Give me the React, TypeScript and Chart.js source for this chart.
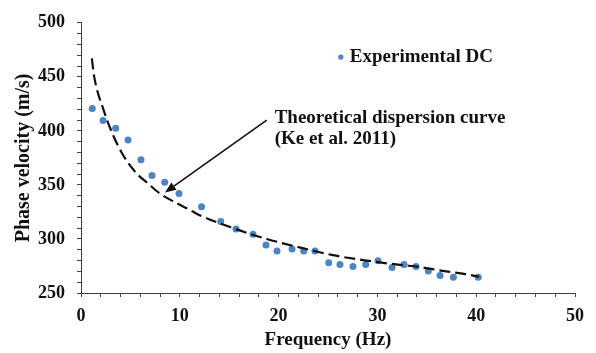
import React, { useEffect, useRef } from "react";
import { Chart, registerables } from "chart.js";

Chart.register(...registerables);

// Experimental dispersion curve
const expFreq = [1.14, 2.23, 3.51, 4.76, 6.07, 7.19, 8.47, 9.92, 12.2, 14.14, 15.69, 17.41, 18.72, 19.84, 21.36, 22.54, 23.68, 25.07, 26.21, 27.53, 28.82, 30.06, 31.48, 32.69, 33.91, 35.15, 36.34, 37.69, 40.2];
const expVel = [420.6, 409.7, 402.4, 391.6, 373.2, 358.7, 352.4, 342, 329.7, 316.1, 309.1, 304.3, 294.4, 288.9, 290.8, 288.9, 288.9, 278.1, 276.3, 274.5, 276.3, 279.9, 273.6, 276.3, 274.5, 270.3, 266.3, 264.5, 264.5];

// Theoretical dispersion curve (Ke et al. 2011)
const theoFreq = [1.1, 1.3, 2.3, 3.3, 4.3, 5.6, 6.7, 8.0, 9.5, 11.0, 12.0, 15.4, 18.8, 22.2, 25.5, 28.9, 32.3, 34.3, 36.6, 38.9, 40.3];
const theoVel = [467, 452, 419, 395, 377, 361, 352, 342, 334, 327, 322, 310, 300, 292, 285, 280, 276, 274, 270.5, 267.5, 265];

// Axis tick labels
const xTickLabels = [0, 10, 20, 30, 40, 50];
const yTickLabels = [250, 300, 350, 400, 450, 500];

// Texts
const xTitle = "Frequency (Hz)";
const yTitle = "Phase velocity (m/s)";
const legendText = "Experimental DC";
const noteLines = ["Theoretical dispersion curve", "(Ke et al. 2011)"];

// Annotation anchors in data coordinates
const legendAnchor = { x: 26.3, y: 468.3 };
const noteAnchor = { x: 19.6, y: 412.1 };
const noteLine2Y = 392.2;
const arrowFrom = { x: 18.8, y: 410 };
const arrowTo = { x: 8.5, y: 343 };

const FONT = "'Liberation Serif', 'Times New Roman', serif";
const DOT = "#4d84c4";
const AXIS = "#404040";

export default function App() {
  const ref = useRef<HTMLCanvasElement | null>(null);

  useEffect(() => {
    if (!ref.current) return;
    const annot = {
      id: "annot",
      afterDatasetsDraw(chart: any) {
        const { ctx, scales } = chart;
        const xs = scales.x, ys = scales.y;
        ctx.save();
        // legend
        const lx = xs.getPixelForValue(legendAnchor.x);
        const ly = ys.getPixelForValue(legendAnchor.y);
        ctx.fillStyle = DOT;
        ctx.beginPath();
        ctx.arc(lx, ly, 2.6, 0, Math.PI * 2);
        ctx.fill();
        ctx.fillStyle = "#111";
        ctx.font = `bold 19px ${FONT}`;
        ctx.textBaseline = "middle";
        ctx.textAlign = "left";
        ctx.fillText(legendText, lx + 9, ly);
        // note
        const nx = xs.getPixelForValue(noteAnchor.x);
        ctx.fillText(noteLines[0], nx, ys.getPixelForValue(noteAnchor.y));
        ctx.fillText(noteLines[1], nx, ys.getPixelForValue(noteLine2Y));
        // arrow
        const ax0 = xs.getPixelForValue(arrowFrom.x), ay0 = ys.getPixelForValue(arrowFrom.y);
        const ax1 = xs.getPixelForValue(arrowTo.x), ay1 = ys.getPixelForValue(arrowTo.y);
        const ang = Math.atan2(ay1 - ay0, ax1 - ax0);
        const hl = 11, hw = 4.5;
        const bx = ax1 - hl * Math.cos(ang), by = ay1 - hl * Math.sin(ang);
        ctx.strokeStyle = "#111";
        ctx.lineWidth = 1.6;
        ctx.beginPath();
        ctx.moveTo(ax0, ay0);
        ctx.lineTo(bx, by);
        ctx.stroke();
        ctx.fillStyle = "#111";
        ctx.beginPath();
        ctx.moveTo(ax1, ay1);
        ctx.lineTo(bx + hw * Math.sin(ang), by - hw * Math.cos(ang));
        ctx.lineTo(bx - hw * Math.sin(ang), by + hw * Math.cos(ang));
        ctx.closePath();
        ctx.fill();
        ctx.restore();
      },
    };

    const chart = new Chart(ref.current, {
      type: "scatter",
      data: {
        datasets: [
          {
            type: "line",
            label: "Theoretical",
            data: theoFreq.map((f, i) => ({ x: f, y: theoVel[i] })),
            borderColor: "#111",
            borderWidth: 2.2,
            borderDash: [11, 5],
            pointRadius: 0,
            fill: false,
            cubicInterpolationMode: "monotone",
          } as any,
          {
            label: legendText,
            data: expFreq.map((f, i) => ({ x: f, y: expVel[i] })),
            backgroundColor: DOT,
            borderColor: DOT,
            borderWidth: 0,
            pointRadius: 3.5,
          },
        ],
      },
      options: {
        responsive: false,
        animation: false,
        layout: { padding: { left: 0, right: 21, top: 17, bottom: 0 } },
        plugins: { legend: { display: false }, tooltip: { enabled: false } },
        scales: {
          x: {
            type: "linear",
            min: 0,
            max: 50,
            afterFit(s: any) { s.height = 60; },
            afterBuildTicks(s: any) {
              const t = [];
              for (let v = 0; v <= 50; v += 2) t.push({ value: v });
              s.ticks = t;
            },
            ticks: {
              autoSkip: false,
              maxRotation: 0,
              padding: 9,
              color: "#111",
              font: { family: FONT, size: 18, weight: "bold" },
              callback: (v: any) => (xTickLabels.includes(Number(v)) ? String(v) : ""),
            },
            grid: { drawOnChartArea: false, drawTicks: true, tickLength: 4, color: AXIS },
            border: { display: true, color: AXIS, width: 1 },
            title: {
              display: true,
              text: xTitle,
              color: "#111",
              font: { family: FONT, size: 19, weight: "bold" },
              padding: { top: 0, bottom: 2 },
            },
          },
          y: {
            type: "linear",
            min: 250,
            max: 500,
            afterFit(s: any) { s.width = 81; },
            afterBuildTicks(s: any) {
              const t = [];
              for (let v = 250; v <= 500; v += 10) t.push({ value: v });
              s.ticks = t;
            },
            ticks: {
              autoSkip: false,
              padding: 12,
              color: "#111",
              font: { family: FONT, size: 18, weight: "bold" },
              callback: (v: any) => (yTickLabels.includes(Number(v)) ? String(v) : ""),
            },
            grid: { drawOnChartArea: false, drawTicks: true, tickLength: 4, color: AXIS },
            border: { display: true, color: AXIS, width: 1 },
            title: {
              display: true,
              text: yTitle,
              color: "#111",
              font: { family: FONT, size: 20, weight: "bold" },
              padding: { top: 12, bottom: 0 },
            },
          },
        },
      },
      plugins: [annot],
    } as any);
    return () => chart.destroy();
  }, []);

  return (
    <div style={{ position: "fixed", left: 0, top: 0, width: 596, height: 353, background: "#fff" }}>
      <canvas ref={ref} width={596} height={353} style={{ width: 596, height: 353, display: "block" }} />
    </div>
  );
}
